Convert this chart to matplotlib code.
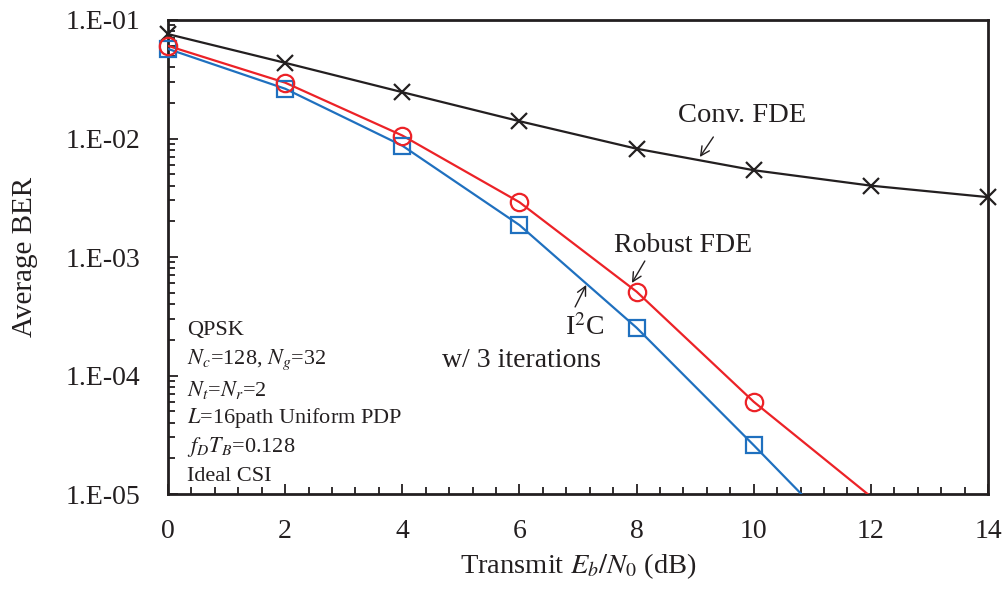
import matplotlib
matplotlib.use("Agg")
import matplotlib.pyplot as plt
import numpy as np
from matplotlib.ticker import FixedLocator, FuncFormatter, MultipleLocator, LogLocator, NullFormatter

plt.rcParams['font.family'] = ['Liberation Serif', 'DejaVu Serif']
plt.rcParams['mathtext.fontset'] = 'stix'

# ---- data ----
snr = [0, 2, 4, 6, 8, 10, 12, 14]
conv_fde = [0.076, 0.0435, 0.0246, 0.0140, 0.0082, 0.0054, 0.0040, 0.0032]
robust_snr = [0, 2, 4, 6, 8, 10, 12]
robust_fde = [0.0605, 0.0296, 0.0106, 0.0029, 5.1e-4, 6.0e-5, 9.5e-6]
i2c_snr = [0, 2, 4, 6, 8, 10, 12]
i2c = [0.057, 0.0263, 0.0087, 0.00186, 2.53e-4, 2.58e-5, 2.5e-6]

xticks = [0, 2, 4, 6, 8, 10, 12, 14]
yticks = [1e-1, 1e-2, 1e-3, 1e-4, 1e-5]
info_lines = ["QPSK", "$N_c$=128, $N_g$=32", "$N_t$=$N_r$=2",
              "$L$=16path Uniform PDP", "$f_DT_B$=0.128", "Ideal CSI"]

c_black = '#231F20'
c_red = '#EC2227'
c_blue = '#1F70BF'

fig = plt.figure(figsize=(10.08, 5.97), dpi=100)
ax = fig.add_axes([0.1667, 0.1725, 0.8135, 0.794])
ax.set_yscale('log')
ax.set_xlim(0, 14)
ax.set_ylim(1e-5, 1e-1)

def plot_series(x, y, color, marker, ms, z):
    ax.plot(x, y, color=color, lw=1.6, zorder=3)
    x = np.asarray(x); y = np.asarray(y)
    m = (y >= 1e-5)
    ax.plot(x[m], y[m], ls='none', marker=marker, ms=ms, mec=color, mfc='none',
            mew=1.6, clip_on=False, zorder=z)

plot_series(snr, conv_fde, c_black, 'x', 11, 4)
plot_series(i2c_snr, i2c, c_blue, 's', 11, 4)
plot_series(robust_snr, robust_fde, c_red, 'o', 12.5, 5)

# ticks
ax.xaxis.set_major_locator(FixedLocator(xticks))
ax.xaxis.set_minor_locator(MultipleLocator(0.4))
ax.yaxis.set_major_locator(FixedLocator(yticks))
ax.yaxis.set_minor_locator(LogLocator(base=10, subs=np.arange(2, 10) * 1.0))
ax.yaxis.set_minor_formatter(NullFormatter())
ax.yaxis.set_major_formatter(FuncFormatter(lambda v, p: "1.E-%02d" % int(round(-np.log10(v)))))
ax.tick_params(axis='both', which='both', direction='in', top=False, right=False,
               color=c_black, width=1.3)
ax.tick_params(axis='both', which='major', length=7, labelsize=20, labelcolor=c_black)
ax.tick_params(axis='both', which='minor', length=5)
ax.tick_params(axis='y', which='major', pad=20)
ax.tick_params(axis='x', which='major', pad=18)

for s in ax.spines.values():
    s.set_linewidth(2)
    s.set_color(c_black)

ax.set_xlabel("Transmit $E_b/N_0$ (dB)", fontsize=20.5, color=c_black, labelpad=5)
ax.set_ylabel("Average BER", fontsize=21, color=c_black, labelpad=20)

# info block
ys = [0.344, 0.283, 0.219, 0.160, 0.099, 0.038]
for t, yy in zip(info_lines, ys):
    ax.text(0.023, yy, t, transform=ax.transAxes, fontsize=16, va='center', ha='left', color=c_black)

arrow = dict(arrowstyle='->', color=c_black, lw=1.0, shrinkA=0, shrinkB=0, mutation_scale=16)
ax.text(9.8, 0.0155, "Conv. FDE", fontsize=20.5, ha='center', va='center', color=c_black)
ax.annotate("", xy=(9.08, 0.00698), xytext=(9.31, 0.0103), arrowprops=arrow)
ax.text(8.79, 1.24e-3, "Robust FDE", fontsize=20, ha='center', va='center', color=c_black)
ax.annotate("", xy=(7.92, 6.04e-4), xytext=(8.14, 9.25e-4), arrowprops=arrow)
ax.text(7.12, 2.56e-4, "I$^{2}$C", fontsize=20, ha='center', va='center', color=c_black)
ax.text(6.03, 1.35e-4, "w/ 3 iterations", fontsize=20, ha='center', va='center', color=c_black)
ax.annotate("", xy=(7.14, 5.81e-4), xytext=(6.95, 3.79e-4), arrowprops=arrow)

fig.savefig("out.png", dpi=100)
